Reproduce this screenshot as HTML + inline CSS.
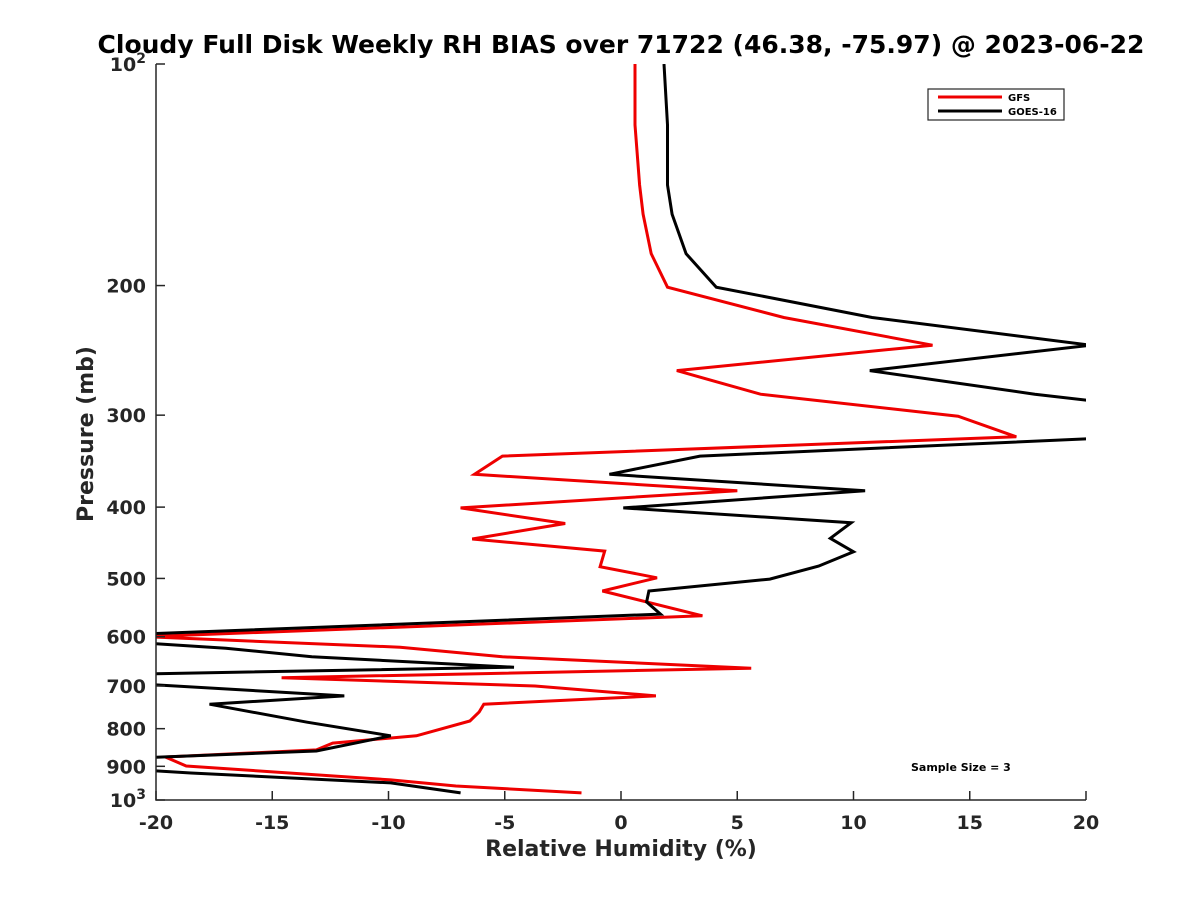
<!DOCTYPE html>
<html><head><meta charset="utf-8">
<style>
html,body{margin:0;padding:0;background:#fff;}
svg{display:block;font-family:"DejaVu Sans","Liberation Sans",sans-serif;}
</style></head>
<body>
<svg id="chart" width="1200" height="900">
  <text x="621" y="53" text-anchor="middle" font-size="25" font-weight="bold" fill="#000">Cloudy Full Disk Weekly RH BIAS over 71722 (46.38, -75.97) @ 2023-06-22</text>
  <defs><clipPath id="plotclip"><rect x="156" y="64" width="930" height="736"/></clipPath></defs>
  <g id="series" clip-path="url(#plotclip)"></g>
  <g id="axes"></g>
  <text x="621" y="856" text-anchor="middle" font-size="22" font-weight="bold" fill="#262626">Relative Humidity (%)</text>
  <text transform="translate(93,434) rotate(-90)" text-anchor="middle" font-size="22" font-weight="bold" fill="#262626">Pressure (mb)</text>
  <g>
    <rect x="928" y="89" width="136" height="31" fill="#fff" stroke="#262626" stroke-width="1.2"/>
    <line x1="938" y1="97" x2="1002" y2="97" stroke="#e00" stroke-width="3"/>
    <text x="1008" y="101" font-size="10" font-weight="bold" fill="#000">GFS</text>
    <line x1="938" y1="111" x2="1002" y2="111" stroke="#000" stroke-width="3"/>
    <text x="1008" y="115" font-size="10" font-weight="bold" fill="#000">GOES-16</text>
  </g>
  <text x="911" y="771" font-size="11" font-weight="bold" fill="#000">Sample Size = 3</text>
</svg>
<script>
const xTicks = [-20,-15,-10,-5,0,5,10,15,20];
const yTicks = [100,200,300,400,500,600,700,800,900,1000];
const yTickLabels = ["10²","200","300","400","500","600","700","800","900","10³"];
const gfsPressure = [100,121,146,160,181,201,221,241,261,281,301,321,341,361,380,401,421,442,459,482,499,520,562,600,620,639,662,682,700,722,741,759,781,818,837,855,874,899,939,957,978];
const gfsBias = [0.6,0.6,0.8,0.95,1.3,2.0,7.0,13.4,2.4,6.0,14.5,17.0,-5.1,-6.3,5.0,-6.9,-2.4,-6.4,-0.7,-0.9,1.55,-0.8,3.5,-20.5,-9.5,-5.1,5.6,-14.6,-3.7,1.5,-5.9,-6.1,-6.5,-8.8,-12.4,-13.1,-19.6,-18.7,-9.9,-7.1,-1.7];
const goesPressure = [100,121,146,160,181,201,221,241,261,281,301,321,341,361,380,401,420,441,460,481,501,520,538,559,595,612,622,639,660,674,696,722,741,784,818,858,876,911,919,948,978];
const goesBias = [1.85,2.0,2.0,2.2,2.8,4.1,10.8,20.2,10.7,17.8,26,22,3.4,-0.5,10.5,0.1,9.9,9.0,10.0,8.5,6.4,1.2,1.1,1.7,-20.5,-20.5,-17,-13.3,-4.6,-20.5,-20.5,-11.9,-17.7,-13.5,-9.9,-13.1,-20.5,-20.5,-18.5,-9.9,-6.9];

const X0=156,X1=1086,Y0=64,Y1=800;
function xs(v){return X0+(v+20)/40*(X1-X0);}
function ys(p){return Y0+(Math.log10(p)-2)*(Y1-Y0);}
const NS="http://www.w3.org/2000/svg";
const series=document.getElementById('series');
const axes=document.getElementById('axes');
function mk(tag,attrs,parent){const e=document.createElementNS(NS,tag);for(const k in attrs)e.setAttribute(k,attrs[k]);parent.appendChild(e);return e;}

function drawLine(ps,vs,color,name){
  const pts=ps.map((p,i)=>xs(vs[i]).toFixed(1)+","+ys(p).toFixed(1)).join(" ");
  const el=mk('polyline',{points:pts,fill:'none',stroke:color,'stroke-width':3,'stroke-linejoin':'miter'},series);
  
  
}
drawLine(gfsPressure,gfsBias,'#e00','gfs-line');
drawLine(goesPressure,goesBias,'#000','goes16-line');

const ax=mk('path',{d:`M${X0},${Y0}V${Y1}H${X1}`,stroke:'#262626','stroke-width':1.5,fill:'none'},axes);


xTicks.forEach(v=>{
  const x=xs(v);
  const t=mk('line',{x1:x,y1:Y1,x2:x,y2:Y1-9,stroke:'#262626','stroke-width':1.5},axes);
  
  
  const l=mk('text',{x:x,y:Y1+29,'text-anchor':'middle','font-size':19,'font-weight':'bold',fill:'#262626'},axes);
  l.textContent=String(v);
  
  
});
yTicks.forEach((p,i)=>{
  const y=ys(p);
  const t=mk('line',{x1:X0,y1:y,x2:X0+9,y2:y,stroke:'#262626','stroke-width':1.5},axes);
  
  
  const l=mk('text',{x:X0-10,y:y+7,'text-anchor':'end','font-size':19,'font-weight':'bold',fill:'#262626'},axes);
  const lab=yTickLabels[i];
  if(lab.startsWith("10")&&lab.length>2){
    l.textContent="10";
    const s=mk('tspan',{dy:-8,'font-size':14},l);
    s.textContent=lab.slice(2)==="²"?"2":"3";
  } else l.textContent=lab;
  
  
});
</script>
</body></html>
